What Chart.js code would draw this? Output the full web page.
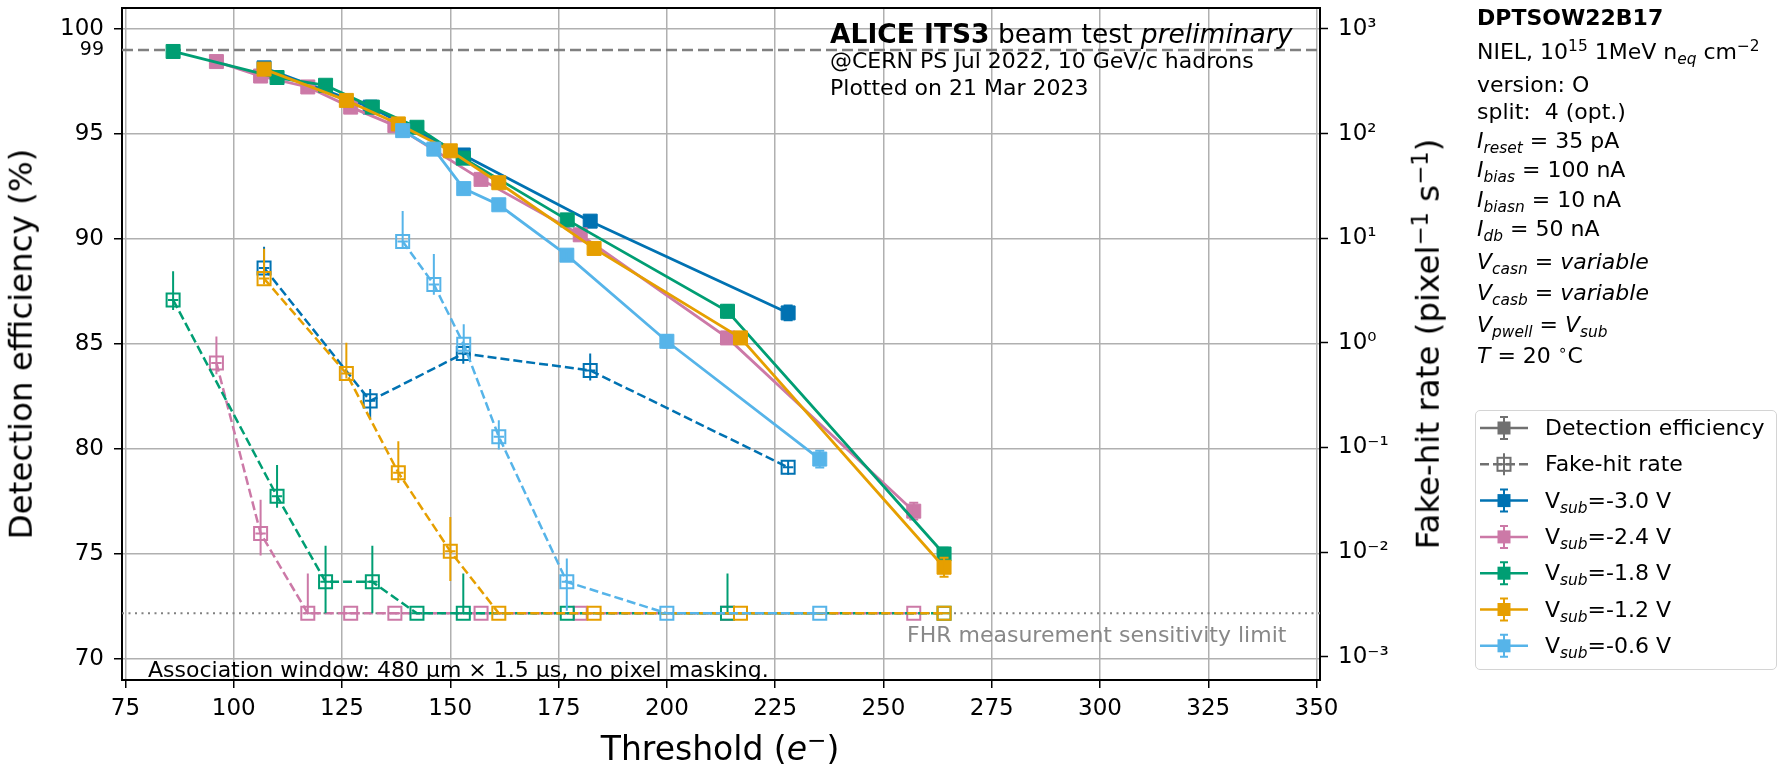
<!DOCTYPE html>
<html>
<head>
<meta charset="utf-8">
<title>DPTSOW22B17 detection efficiency and fake-hit rate</title>
<script src="https://cdn.jsdelivr.net/npm/chart.js@4.4.1/dist/chart.umd.min.js"></script>
<style>
  body { margin: 0; background: #fff; font-family: "DejaVu Sans", sans-serif; color: #000; }
  #wrap { position: relative; width: 1789px; height: 769px; overflow: hidden; }
  #chart { position: absolute; left: 0; top: 0; }
  .txt { position: absolute; white-space: nowrap; line-height: 1; font-size: 22px; transform: translateY(-50%); pointer-events: none; }
  .rot { position: absolute; white-space: nowrap; line-height: 1; font-size: 32.5px; transform: translate(-50%, -50%) rotate(-90deg); pointer-events: none; }
  sub { font-size: 0.7em; vertical-align: -0.3em; line-height: 0; }
  sup { font-size: 0.7em; vertical-align: 0.5em; line-height: 0; }
  #legendBox { position: absolute; left: 1475px; top: 410px; width: 302px; height: 260px; box-sizing: border-box;
               border: 1.5px solid #d4d4d4; border-radius: 5px; }
</style>
</head>
<body>
<div id="wrap">
  <canvas id="chart" width="1789" height="769"></canvas>

  <div class="txt" style="left:830px;top:34px;font-size:26.5px"><b>ALICE ITS3</b> beam test <i>preliminary</i></div>
  <div class="txt" style="left:830px;top:61px">@CERN PS Jul 2022, 10 GeV/c hadrons</div>
  <div class="txt" style="left:830px;top:88px">Plotted on 21 Mar 2023</div>
  <div class="txt" style="left:148px;top:670px">Association window: 480 µm × 1.5 µs, no pixel masking.</div>
  <div class="txt" style="left:907px;top:635px;color:#888">FHR measurement sensitivity limit</div>

  <div class="rot" style="left:21px;top:344px">Detection efficiency (%)</div>
  <div class="rot" style="left:1428px;top:344px">Fake-hit rate (pixel<sup>−1</sup> s<sup>−1</sup>)</div>
  <div class="txt" style="left:720px;top:748px;font-size:33px;transform:translate(-50%,-50%)">Threshold (<i>e</i><sup>−</sup>)</div>

  <div class="txt" style="left:1477px;top:18px"><b>DPTSOW22B17</b></div>
  <div class="txt" style="left:1477px;top:52px">NIEL, 10<sup>15</sup> 1MeV n<sub><i>eq</i></sub> cm<sup>−2</sup></div>
  <div class="txt" style="left:1477px;top:85px">version: O</div>
  <div class="txt" style="left:1477px;top:112px">split:&nbsp; 4 (opt.)</div>
  <div class="txt" style="left:1477px;top:141px"><i>I<sub>reset</sub></i> = 35 pA</div>
  <div class="txt" style="left:1477px;top:170px"><i>I<sub>bias</sub></i> = 100 nA</div>
  <div class="txt" style="left:1477px;top:200px"><i>I<sub>biasn</sub></i> = 10 nA</div>
  <div class="txt" style="left:1477px;top:229px"><i>I<sub>db</sub></i> = 50 nA</div>
  <div class="txt" style="left:1477px;top:262px"><i>V<sub>casn</sub></i> = <i>variable</i></div>
  <div class="txt" style="left:1477px;top:293px"><i>V<sub>casb</sub></i> = <i>variable</i></div>
  <div class="txt" style="left:1477px;top:325px"><i>V<sub>pwell</sub></i> = <i>V<sub>sub</sub></i></div>
  <div class="txt" style="left:1477px;top:356px"><i>T</i> = 20 <sup>∘</sup>C</div>

  <div id="legendBox"></div>
  <div id="legendText"></div>
</div>

<script>
// bias settings and colours, one entry per substrate voltage
const vsub = ['-3.0', '-2.4', '-1.8', '-1.2', '-0.6'];
const colors = ['#0072B2', '#CC79A7', '#009E73', '#E69F00', '#56B4E9'];

// FHR sensitivity limit (no hits recorded) and the 99 % efficiency reference
const fhrLimit = 0.0026;
const effRef = 99;
const L = fhrLimit;

// Vsub = -3.0 V
const thr30 = [107, 131.5, 153, 182.3, 228];
const eff30 = [98.15, 96.28, 94.0, 90.85, 86.48];
const effErr30 = [0.1, 0.1, 0.12, 0.2, 0.35];
const fhr30 = [5.2, 0.279, 0.79, 0.545, 0.0646];
const fhrUp30 = [8.3, 0.363, 0.955, 0.79, 0.0759];
const fhrDn30 = [3.98, 0.19, 0.631, 0.437, 0.055];

// Vsub = -2.4 V
const thr24 = [96, 106.2, 117.1, 127, 137.2, 157.1, 180, 214, 257];
const eff24 = [98.45, 97.76, 97.24, 96.28, 95.4, 92.84, 90.2, 85.29, 77.04];
const effErr24 = [0.1, 0.1, 0.1, 0.1, 0.12, 0.15, 0.2, 0.25, 0.4];
const fhr24 = [0.643, 0.0151, L, L, L, L, L, L, L];
const fhrUp24 = [1.15, 0.0316, 0.00625, L, L, L, L, L, L];
const fhrDn24 = [0.5, 0.0093, L, L, L, L, L, L, L];

// Vsub = -1.8 V
const thr18 = [86, 110, 121.2, 132, 142.3, 153, 177, 214, 264];
const eff18 = [98.93, 97.69, 97.32, 96.28, 95.32, 93.85, 90.91, 86.56, 75.0];
const effErr18 = [0.1, 0.1, 0.1, 0.1, 0.12, 0.15, 0.2, 0.3, 0.3];
const fhr18 = [2.57, 0.0342, 0.0052, 0.0052, L, L, L, L, L];
const fhrUp18 = [4.83, 0.0682, 0.0115, 0.0115, L, 0.00625, L, 0.00625, L];
const fhrDn18 = [2.06, 0.0265, L, L, L, L, L, L, L];

// Vsub = -1.2 V
const thr12 = [107, 126, 138, 150, 161.2, 183.2, 217, 264];
const eff12 = [98.09, 96.6, 95.48, 94.2, 92.68, 89.55, 85.29, 74.37];
const effErr12 = [0.1, 0.1, 0.12, 0.12, 0.15, 0.2, 0.25, 0.45];
const fhr12 = [4.11, 0.51, 0.0575, 0.0102, L, L, L, L];
const fhrUp12 = [7.94, 1.0, 0.115, 0.0217, L, L, L, L];
const fhrDn12 = [3.63, 0.457, 0.0457, 0.0053, L, L, L, L];

// Vsub = -0.6 V
const thr06 = [139, 146.2, 153.1, 161.2, 176.9, 200, 235.3];
const eff06 = [95.16, 94.28, 92.4, 91.63, 89.23, 85.13, 79.52];
const effErr06 = [0.1, 0.12, 0.15, 0.15, 0.2, 0.3, 0.4];
const fhr06 = [9.3, 3.61, 0.97, 0.127, 0.0052, L, L];
const fhrUp06 = [18.2, 7.08, 1.51, 0.182, 0.0087, L, L];
const fhrDn06 = [7.94, 2.88, 0.79, 0.0955, 0.00275, L, L];

// threshold uncertainty drawn as horizontal bar on FHR points
const thrErr = 1.2;

// axis ticks
const xTicks = [75, 100, 125, 150, 175, 200, 225, 250, 275, 300, 325, 350];
const effTicks = [70, 75, 80, 85, 90, 95, 99, 100];
const fhrTicks = [1e-3, 1e-2, 1e-1, 1, 10, 100, 1000];

const thrAll = [thr30, thr24, thr18, thr12, thr06];
const effAll = [eff30, eff24, eff18, eff12, eff06];
const effErrAll = [effErr30, effErr24, effErr18, effErr12, effErr06];
const fhrAll = [fhr30, fhr24, fhr18, fhr12, fhr06];
const fhrUpAll = [fhrUp30, fhrUp24, fhrUp18, fhrUp12, fhrUp06];
const fhrDnAll = [fhrDn30, fhrDn24, fhrDn18, fhrDn12, fhrDn06];

const FONT = 'DejaVu Sans';
const supDigits = { '0': '⁰', '1': '¹', '2': '²', '3': '³', '-': '⁻' };
function powLabel(v) {
    const e = String(Math.round(Math.log10(v)));
    return '10' + e.split('').map(c => supDigits[c]).join('');
}

const datasets = [];
vsub.forEach(function (v, s) {
    const c = colors[s];
    const thr = thrAll[s];
    // efficiency: solid line, filled squares
    datasets.push({
        label: 'eff ' + v,
        data: thr.map((t, i) => ({ x: t, y: effAll[s][i] })),
        yAxisID: 'y',
        borderColor: c,
        backgroundColor: c,
        borderWidth: 2.8,
        pointStyle: 'rect',
        pointRadius: 9.9,
        pointHoverRadius: 9.9,
        pointBorderWidth: 1,
        pointBackgroundColor: c,
        pointBorderColor: c,
        tension: 0,
        errHi: effAll[s].map((e, i) => e + effErrAll[s][i]),
        errLo: effAll[s].map((e, i) => e - effErrAll[s][i]),
        caps: 4.5,
        order: 2 * (vsub.length - s)
    });
    // fake-hit rate: dashed line, open squares
    datasets.push({
        label: 'fhr ' + v,
        data: thr.map((t, i) => ({ x: t, y: fhrAll[s][i] })),
        yAxisID: 'y2',
        borderColor: c,
        backgroundColor: c,
        borderWidth: 2.5,
        borderDash: [9, 4],
        pointStyle: 'rect',
        pointRadius: 9.2,
        pointHoverRadius: 9.2,
        pointBorderWidth: 2,
        pointBackgroundColor: 'rgba(0,0,0,0)',
        pointBorderColor: c,
        tension: 0,
        errHi: fhrUpAll[s],
        errLo: fhrDnAll[s],
        xErr: thrErr,
        caps: 0,
        order: 2 * (vsub.length - s) - 1
    });
});

// error bars, drawn right after each dataset so stacking follows the series order
const errorBars = {
    id: 'errorBars',
    afterDatasetDraw(chart, args) {
        const ds = chart.data.datasets[args.index];
        if (!ds.errHi) return;
        const ctx = chart.ctx;
        const a = chart.chartArea;
        const xs = chart.scales.x;
        const ys = chart.scales[ds.yAxisID];
        ctx.save();
        ctx.beginPath();
        ctx.rect(a.left, a.top, a.right - a.left, a.bottom - a.top);
        ctx.clip();
        ctx.strokeStyle = ds.borderColor;
        ctx.lineWidth = 2;
        ctx.setLineDash([]);
        ctx.beginPath();
        ds.data.forEach(function (p, i) {
            const px = xs.getPixelForValue(p.x);
            const py = ys.getPixelForValue(p.y);
            const hi = ys.getPixelForValue(ds.errHi[i]);
            const lo = ys.getPixelForValue(ds.errLo[i]);
            if (Math.abs(lo - hi) > 0.5) {
                ctx.moveTo(px, hi);
                ctx.lineTo(px, lo);
                if (ds.caps) {
                    ctx.moveTo(px - ds.caps, hi); ctx.lineTo(px + ds.caps, hi);
                    ctx.moveTo(px - ds.caps, lo); ctx.lineTo(px + ds.caps, lo);
                }
            }
            if (ds.xErr) {
                ctx.moveTo(xs.getPixelForValue(p.x - ds.xErr), py);
                ctx.lineTo(xs.getPixelForValue(p.x + ds.xErr), py);
            }
        });
        ctx.stroke();
        ctx.restore();
    }
};

// legend rows: sample line + marker + bar
const legendItems = [
    { text: 'Detection efficiency', color: '#707070', fhr: false },
    { text: 'Fake-hit rate', color: '#707070', fhr: true }
].concat(vsub.map((v, s) => ({ text: 'V<sub><i>sub</i></sub>=' + v + ' V', color: colors[s], fhr: false })));
const legendX = 1504, legendTop = 428, legendStep = 36.3;

function drawGlyph(ctx, cx, cy, item) {
    ctx.save();
    ctx.strokeStyle = item.color;
    ctx.fillStyle = item.color;
    ctx.lineWidth = 2.5;
    ctx.setLineDash(item.fhr ? [9, 4] : []);
    ctx.beginPath();
    ctx.moveTo(cx - 24, cy); ctx.lineTo(cx + 24, cy);
    ctx.stroke();
    ctx.setLineDash([]);
    ctx.lineWidth = 2;
    ctx.beginPath();
    ctx.moveTo(cx, cy - 11); ctx.lineTo(cx, cy + 11);
    if (item.fhr) {
        ctx.moveTo(cx - 6, cy); ctx.lineTo(cx + 6, cy);
    } else {
        ctx.moveTo(cx - 4, cy - 11); ctx.lineTo(cx + 4, cy - 11);
        ctx.moveTo(cx - 4, cy + 11); ctx.lineTo(cx + 4, cy + 11);
    }
    ctx.stroke();
    const side = 13;
    if (item.fhr) ctx.strokeRect(cx - side / 2, cy - side / 2, side, side);
    else ctx.fillRect(cx - side / 2, cy - side / 2, side, side);
    ctx.restore();
}

const decorations = {
    id: 'decorations',
    beforeDatasetsDraw(chart) {
        const { ctx, chartArea: a, scales } = chart;
        ctx.save();
        ctx.beginPath();
        ctx.rect(a.left, a.top, a.right - a.left, a.bottom - a.top);
        ctx.clip();
        // 99 % line
        let y = scales.y.getPixelForValue(effRef);
        ctx.strokeStyle = '#808080';
        ctx.lineWidth = 2.5;
        ctx.setLineDash([11, 5]);
        ctx.beginPath(); ctx.moveTo(a.left, y); ctx.lineTo(a.right, y); ctx.stroke();
        // FHR measurement limit
        y = scales.y2.getPixelForValue(fhrLimit);
        ctx.lineWidth = 2;
        ctx.setLineDash([2, 4.5]);
        ctx.beginPath(); ctx.moveTo(a.left, y); ctx.lineTo(a.right, y); ctx.stroke();
        ctx.restore();
    },
    afterDraw(chart) {
        const { ctx, chartArea: a } = chart;
        // top spine
        ctx.save();
        ctx.strokeStyle = '#000';
        ctx.lineWidth = 2;
        ctx.beginPath(); ctx.moveTo(a.left - 1, a.top); ctx.lineTo(a.right + 1, a.top); ctx.stroke();
        ctx.restore();
        legendItems.forEach((item, i) => drawGlyph(ctx, legendX, legendTop + i * legendStep, item));
    }
};

// legend labels as text next to the glyphs
const legendText = document.getElementById('legendText');
legendItems.forEach(function (item, i) {
    const d = document.createElement('div');
    d.className = 'txt';
    d.style.left = '1545px';
    d.style.top = (legendTop + i * legendStep) + 'px';
    d.innerHTML = item.text;
    legendText.appendChild(d);
});

const tickFont = { family: FONT, size: 23 };

new Chart(document.getElementById('chart').getContext('2d'), {
    type: 'line',
    data: { datasets: datasets },
    options: {
        responsive: false,
        animation: false,
        devicePixelRatio: 1,
        layout: { padding: { top: 8, left: 0, right: 0, bottom: 0 }, autoPadding: false },
        plugins: { legend: { display: false }, tooltip: { enabled: false } },
        scales: {
            x: {
                type: 'linear',
                min: 74.2,
                max: 350.8,
                afterBuildTicks: s => { s.ticks = xTicks.map(v => ({ value: v })); },
                ticks: { font: tickFont, color: '#000', padding: 7, maxRotation: 0, autoSkip: false },
                grid: { color: '#b0b0b0', lineWidth: 1.5, tickLength: 8, tickColor: '#000', tickWidth: 1.5 },
                border: { display: true, color: '#000', width: 2 },
                afterFit: s => { s.height = 89; s.paddingLeft = 0; s.paddingRight = 0; }
            },
            y: {
                type: 'linear',
                position: 'left',
                min: 69,
                max: 101,
                afterBuildTicks: s => { s.ticks = effTicks.map(v => ({ value: v })); },
                ticks: {
                    font: c => ({ family: FONT, size: c.tick && c.tick.value === effRef ? 19 : 23 }),
                    color: '#000', padding: 10, autoSkip: false
                },
                grid: {
                    color: c => c.tick && c.tick.value === effRef ? 'rgba(0,0,0,0)' : '#b0b0b0',
                    tickColor: c => c.tick && c.tick.value === effRef ? 'rgba(0,0,0,0)' : '#000',
                    lineWidth: 1.5, tickLength: 8, tickWidth: 1.5
                },
                border: { display: true, color: '#000', width: 2 },
                afterFit: s => { s.width = 122; s.paddingTop = 0; s.paddingBottom = 0; }
            },
            y2: {
                type: 'logarithmic',
                position: 'right',
                min: Math.pow(10, -3.2),
                max: Math.pow(10, 3.2),
                afterBuildTicks: s => { s.ticks = fhrTicks.map(v => ({ value: v })); },
                ticks: { font: tickFont, color: '#000', padding: 10, autoSkip: false, callback: v => powLabel(v) },
                grid: { drawOnChartArea: false, tickLength: 8, tickColor: '#000', tickWidth: 1.5 },
                border: { display: true, color: '#000', width: 2 },
                afterFit: s => { s.width = 469; s.paddingTop = 0; s.paddingBottom = 0; }
            }
        }
    },
    plugins: [errorBars, decorations]
});
</script>
</body>
</html>
